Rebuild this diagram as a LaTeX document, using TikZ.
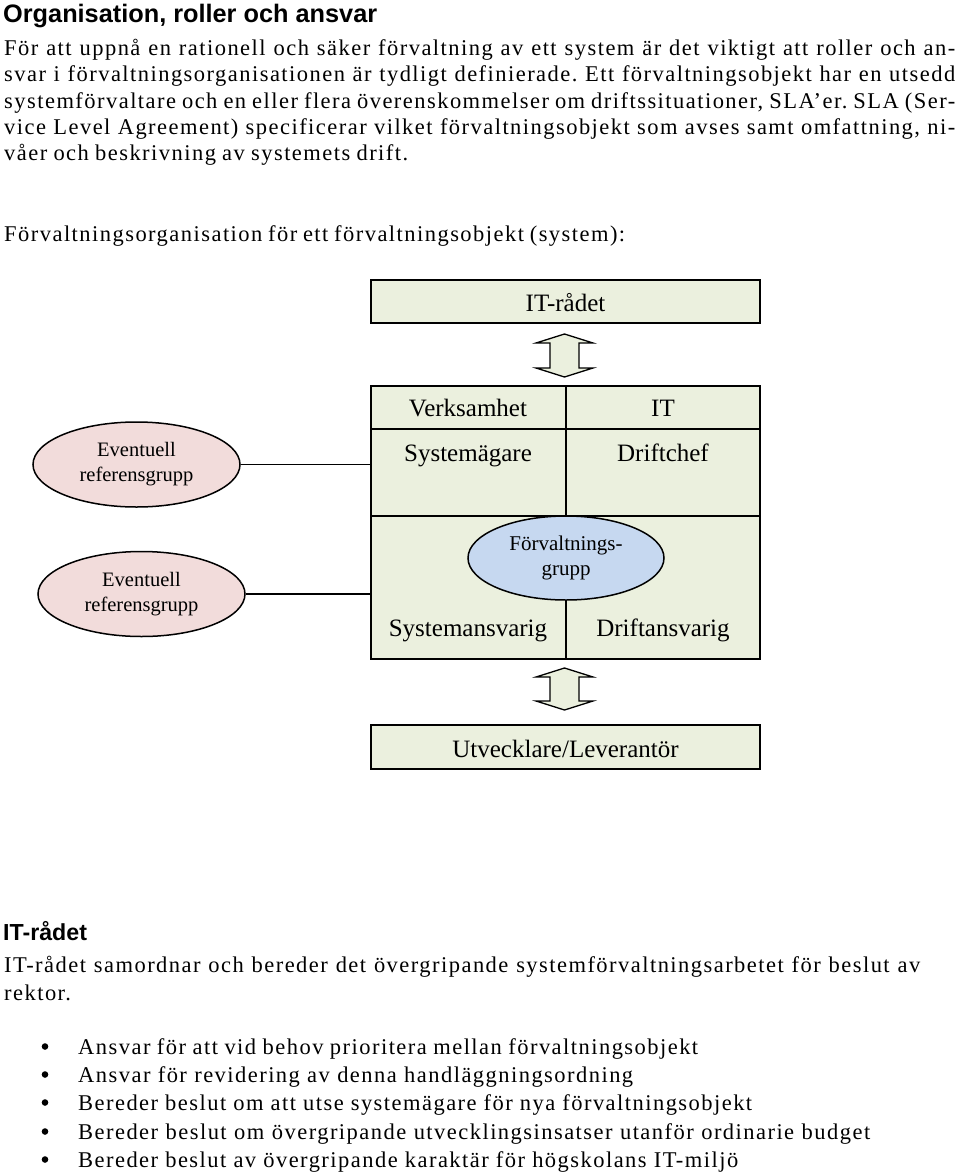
\documentclass[tikz,border=0pt]{standalone}
\usepackage{fontspec}
\setmainfont{Liberation Serif}
\newfontfamily\bodyfont[LetterSpace=6.5]{Liberation Serif}
\newfontfamily\headfont{Liberation Sans}
\usetikzlibrary{shapes.geometric}
\definecolor{boxgreen}{RGB}{235,240,222}
\definecolor{pinkfill}{RGB}{242,220,219}
\definecolor{bluefill}{RGB}{198,216,240}
\frenchspacing
\begin{document}
\begin{tikzpicture}[x=1pt,y=-1pt,
  body/.style={anchor=base west, inner sep=0pt, font=\bodyfont\fontsize{22.5}{26}\selectfont},
  headA/.style={anchor=base west, inner sep=0pt, font=\headfont\bfseries\fontsize{25.3}{28}\selectfont},
  headB/.style={anchor=base west, inner sep=0pt, font=\headfont\bfseries\fontsize{23.2}{26}\selectfont},
  celltext/.style={anchor=base, inner sep=0pt, font=\fontsize{25}{28}\selectfont},
  cellfill/.style={draw=black, line width=1.5pt, fill=boxgreen},
  plainbox/.style={draw=black, line width=1.5pt, fill=boxgreen},
  pinkell/.style={ellipse, draw=black, line width=1.5pt, fill=pinkfill, inner sep=0pt,
     minimum width=207pt, minimum height=85pt, align=center, font=\fontsize{20.5}{25}\selectfont},
  blueell/.style={ellipse, draw=black, line width=1.5pt, fill=bluefill, inner sep=0pt,
     minimum width=196pt, minimum height=84pt, align=center, font=\fontsize{21}{25}\selectfont},
  conn/.style={draw=black, line width=1.5pt},
  dblarrow/.style={draw=black, line width=1.3pt, fill=boxgreen, line join=miter},
  bul/.style={fill=black, draw=none}
]
\useasboundingbox (0,0) rectangle (960,1176);
\fill[white] (0,0) rectangle (960,1176);

% ---------- header text ----------
\node[headA] (title) at (3,22) {Organisation, roller och ansvar};
\node[body] (p1) at (4,55) {\makebox[951pt][s]{För att uppnå en rationell och säker förvaltning av ett system är det viktigt att roller och an-}};
\node[body] (p2) at (4,81.5) {\makebox[951pt][s]{svar i förvaltningsorganisationen är tydligt definierade. Ett förvaltningsobjekt har en utsedd}};
\node[body] (p3) at (4,108) {\makebox[951pt][s]{systemförvaltare och en eller flera överenskommelser om driftssituationer, SLA’er. SLA (Ser-}};
\node[body] (p4) at (4,134.5) {\makebox[951pt][s]{vice Level Agreement) specificerar vilket förvaltningsobjekt som avses samt omfattning, ni-}};
\node[body] (p5) at (4,160.5) {\makebox[404pt][s]{våer och beskrivning av systemets drift.}};
\node[body] (intro) at (4,241) {\makebox[621pt][s]{Förvaltningsorganisation för ett förvaltningsobjekt (system):}};

% ---------- diagram ----------
\draw[plainbox] (371,280) rectangle (760,323);
\node[celltext] (itr) at (565.5,311.5) {IT-rådet};

% upper double arrow
\draw[dblarrow] (564.5,334) -- (593,343) -- (579,343) -- (579,368) -- (593,368) -- (564.5,377)
  -- (536,368) -- (550,368) -- (550,343) -- (536,343) -- cycle;

% main box
\draw[cellfill] (371,386) rectangle (760,659);
\draw[conn] (371,429) -- (760,429);
\draw[conn] (371,516) -- (760,516);
\draw[conn] (566,386) -- (566,516);
\coordinate (mainleft) at (371,500);
\coordinate (divbot) at (566,659);

\node[celltext] (verk) at (468,416.5) {Verksamhet};
\node[celltext] (itc) at (663,416.5) {IT};
\node[celltext] (sysag) at (468,461.5) {Systemägare};
\node[celltext] (drc) at (663,461.5) {Driftchef};
\node[celltext] (sysan) at (468,636.5) {Systemansvarig};
\node[celltext] (dran) at (663,636.5) {Driftansvarig};

\node[blueell] (fg) at (566,558) {Förvaltnings-\\grupp};
\draw[conn] (fg.south) -- (divbot);

% lower double arrow
\draw[dblarrow] (564.5,668) -- (593,677) -- (579,677) -- (579,701) -- (593,701) -- (564.5,710)
  -- (536,701) -- (550,701) -- (550,677) -- (536,677) -- cycle;

\draw[plainbox] (371,725) rectangle (760,769);
\node[celltext] (utv) at (565.5,757) {Utvecklare/Leverantör};

% left ellipses
\node[pinkell] (e1) at (136.5,464.5) {Eventuell\\referensgrupp};
\node[pinkell] (e2) at (141.5,594) {Eventuell\\referensgrupp};
\draw[conn] (e1.east) -- (e1.east -| mainleft);
\draw[conn] (e2.east) -- (e2.east -| mainleft);

% ---------- lower text ----------
\node[headB] (h2) at (3,940) {IT-rådet};
\node[body] (q1) at (4,972) {\makebox[916pt][s]{IT-rådet samordnar och bereder det övergripande systemförvaltningsarbetet för beslut av}};
\node[body] (q2) at (4,1000) {rektor.};

\foreach \yy/\nm/\ww/\txt in {
  1054/b1/620/{Ansvar för att vid behov prioritera mellan förvaltningsobjekt},
  1082/b2/555/{Ansvar för revidering av denna handläggningsordning},
  1110/b3/674/{Bereder beslut om att utse systemägare för nya förvaltningsobjekt},
  1139/b4/792/{Bereder beslut om övergripande utvecklingsinsatser utanför ordinarie budget},
  1167/b5/660/{Bereder beslut av övergripande karaktär för högskolans IT-miljö}} {
  \fill[bul] (45,\yy-7.5) circle (3.3pt);
  \node[body] (\nm) at (78,\yy) {\makebox[\ww pt][s]{\txt}};
}
\end{tikzpicture}
\end{document}
